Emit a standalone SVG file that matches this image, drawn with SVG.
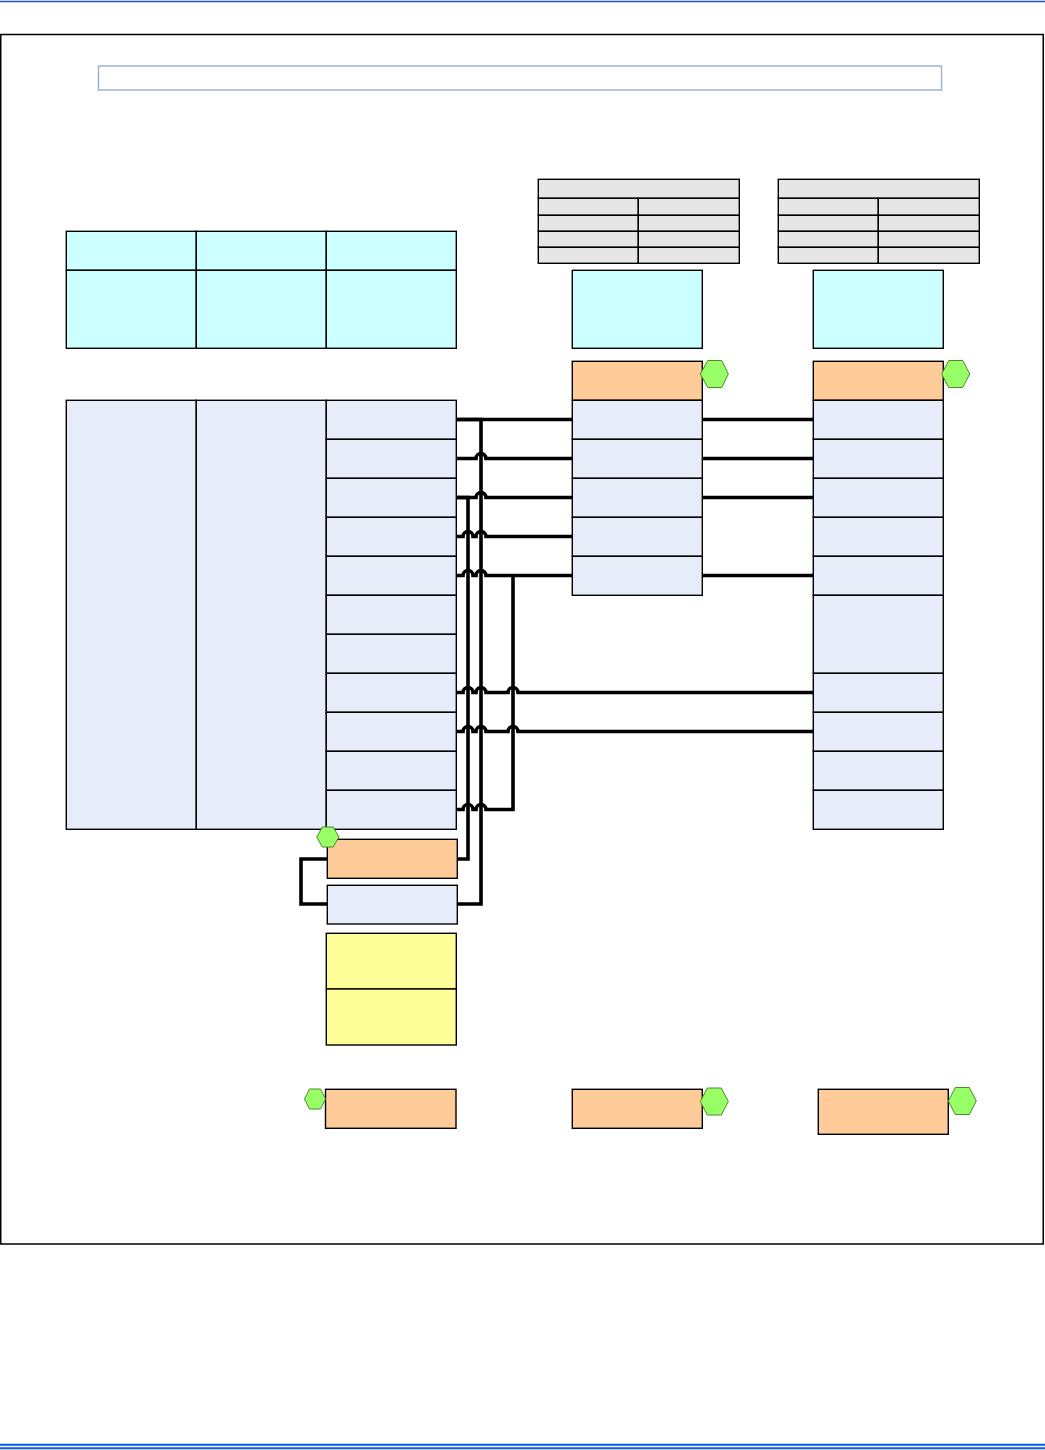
<svg xmlns="http://www.w3.org/2000/svg" width="1045" height="1450" viewBox="0 0 1045 1450">
<style>
.b{stroke:#000;stroke-width:1.4}
.lb{fill:#e6edf8}
.cy{fill:#ccffff}
.or{fill:#ffcc99}
.ye{fill:#ffff99}
.gr{fill:#e6e6e6}
.hex{fill:#99ff66;stroke:#4a8a2a;stroke-width:1}
.w{fill:none;stroke:#000;stroke-width:3.6;stroke-linejoin:miter}
</style>
<rect width="1045" height="1450" fill="#fff"/>
<g id="page">
<line x1="0" y1="1.5" x2="1045" y2="1.5" stroke="#1f52c0" stroke-width="1.5"/>
<line x1="0" y1="1444.7" x2="1045" y2="1444.7" stroke="#0a5ae6" stroke-width="2"/>
<line x1="0" y1="1448.3" x2="1045" y2="1448.3" stroke="#0a5ae6" stroke-width="2"/>
<rect x="0.75" y="34.5" width="1042.5" height="1209.5" fill="none" stroke="#000" stroke-width="1.5"/>
</g>
<g id="title">
<rect x="98.5" y="66" width="843" height="24" fill="#fff" stroke="#9fb5ce" stroke-width="1.5"/>
</g>
<g id="left-table">
<rect class="b cy" x="66.3" y="231.3" width="130" height="39"/>
<rect class="b cy" x="196.3" y="231.3" width="130" height="39"/>
<rect class="b cy" x="326.3" y="231.3" width="130" height="39"/>
<rect class="b cy" x="66.3" y="270.3" width="130" height="78"/>
<rect class="b cy" x="196.3" y="270.3" width="130" height="78"/>
<rect class="b cy" x="326.3" y="270.3" width="130" height="78"/>
</g>
<g id="left-block">
<rect class="b lb" x="66.3" y="400.3" width="130" height="429"/>
<rect class="b lb" x="196.3" y="400.3" width="130" height="429"/>
<rect class="b lb" x="326.3" y="400.3" width="130" height="39"/>
<rect class="b lb" x="326.3" y="439.3" width="130" height="39"/>
<rect class="b lb" x="326.3" y="478.3" width="130" height="39"/>
<rect class="b lb" x="326.3" y="517.3" width="130" height="39"/>
<rect class="b lb" x="326.3" y="556.3" width="130" height="39"/>
<rect class="b lb" x="326.3" y="595.3" width="130" height="39"/>
<rect class="b lb" x="326.3" y="634.3" width="130" height="39"/>
<rect class="b lb" x="326.3" y="673.3" width="130" height="39"/>
<rect class="b lb" x="326.3" y="712.3" width="130" height="39"/>
<rect class="b lb" x="326.3" y="751.3" width="130" height="39"/>
<rect class="b lb" x="326.3" y="790.3" width="130" height="39"/>
</g>
<g id="left-lower">
<rect class="b or" x="327.3" y="839.3" width="130" height="39"/>
<polygon class="hex" points="316.8,837 322.3,827 333.3,827 338.8,837 333.3,847 322.3,847"/>
<rect class="b lb" x="327.3" y="885.3" width="130" height="38.7"/>
<rect class="b ye" x="326.3" y="933.3" width="130" height="55.7"/>
<rect class="b ye" x="326.3" y="989" width="130" height="56"/>
</g>
<g id="mid-table">
<rect class="b gr" x="538.3" y="179.3" width="201" height="19"/>
<rect class="b gr" x="538.3" y="198.3" width="100" height="17"/>
<rect class="b gr" x="638.3" y="198.3" width="101" height="17"/>
<rect class="b gr" x="538.3" y="215.3" width="100" height="16"/>
<rect class="b gr" x="638.3" y="215.3" width="101" height="16"/>
<rect class="b gr" x="538.3" y="231.3" width="100" height="16"/>
<rect class="b gr" x="638.3" y="231.3" width="101" height="16"/>
<rect class="b gr" x="538.3" y="247.3" width="100" height="16"/>
<rect class="b gr" x="638.3" y="247.3" width="101" height="16"/>
</g>
<g id="right-table">
<rect class="b gr" x="778.3" y="179.3" width="201" height="19"/>
<rect class="b gr" x="778.3" y="198.3" width="100" height="17"/>
<rect class="b gr" x="878.3" y="198.3" width="101" height="17"/>
<rect class="b gr" x="778.3" y="215.3" width="100" height="16"/>
<rect class="b gr" x="878.3" y="215.3" width="101" height="16"/>
<rect class="b gr" x="778.3" y="231.3" width="100" height="16"/>
<rect class="b gr" x="878.3" y="231.3" width="101" height="16"/>
<rect class="b gr" x="778.3" y="247.3" width="100" height="16"/>
<rect class="b gr" x="878.3" y="247.3" width="101" height="16"/>
</g>
<g id="mid-column">
<rect class="b cy" x="572.3" y="270.3" width="130" height="78"/>
<rect class="b or" x="572.3" y="361.3" width="130" height="39"/>
<polygon class="hex" points="700.3,374 707.8,360.5 721.8,360.5 728.3,374 721.8,387.5 707.8,387.5"/>
<rect class="b lb" x="572.3" y="400.3" width="130" height="39"/>
<rect class="b lb" x="572.3" y="439.3" width="130" height="39"/>
<rect class="b lb" x="572.3" y="478.3" width="130" height="39"/>
<rect class="b lb" x="572.3" y="517.3" width="130" height="39"/>
<rect class="b lb" x="572.3" y="556.3" width="130" height="39"/>
</g>
<g id="right-column">
<rect class="b cy" x="813.3" y="270.3" width="130" height="78"/>
<rect class="b or" x="813.3" y="361.3" width="130" height="39"/>
<polygon class="hex" points="941.7,374 948.7,360.5 962.7,360.5 969.7,374 962.7,387.5 948.7,387.5"/>
<rect class="b lb" x="813.3" y="400.3" width="130" height="39"/>
<rect class="b lb" x="813.3" y="439.3" width="130" height="39"/>
<rect class="b lb" x="813.3" y="478.3" width="130" height="39"/>
<rect class="b lb" x="813.3" y="517.3" width="130" height="39"/>
<rect class="b lb" x="813.3" y="556.3" width="130" height="39"/>
<rect class="b lb" x="813.3" y="595.3" width="130" height="78"/>
<rect class="b lb" x="813.3" y="673.3" width="130" height="39"/>
<rect class="b lb" x="813.3" y="712.3" width="130" height="39"/>
<rect class="b lb" x="813.3" y="751.3" width="130" height="39"/>
<rect class="b lb" x="813.3" y="790.3" width="130" height="39"/>
</g>
<g id="bottom-row">
<rect class="b or" x="325.5" y="1089.3" width="130.5" height="39"/>
<polygon class="hex" points="304.5,1099 309.5,1089 320.5,1089 325.5,1099 320.5,1109 309.5,1109"/>
<rect class="b or" x="572.3" y="1089.3" width="130" height="39"/>
<polygon class="hex" points="700.3,1101.5 707.3,1088 721.3,1088 728.3,1101.5 721.3,1115 707.3,1115"/>
<rect class="b or" x="818.3" y="1089.3" width="130" height="45"/>
<polygon class="hex" points="948.3,1101 955.3,1087.5 969.3,1087.5 976.3,1101 969.3,1114.5 955.3,1114.5"/>
</g>
<g id="connectors">
<path class="w" d="M456,419.5 H572"/>
<path class="w" d="M456,419.5 H481 V904 H457"/>
<path class="w" d="M456,458.5 H476 A5,5 0 0 1 486,458.5 H572"/>
<path class="w" d="M456,497.5 H476 A5,5 0 0 1 486,497.5 H572"/>
<path class="w" d="M456,497.5 H468 V859 H457"/>
<path class="w" d="M456,536.5 H463 A5,5 0 0 1 473,536.5 H476 A5,5 0 0 1 486,536.5 H572"/>
<path class="w" d="M456,575.5 H463 A5,5 0 0 1 473,575.5 H476 A5,5 0 0 1 486,575.5 H572"/>
<path class="w" d="M456,809.5 H463 A5,5 0 0 1 473,809.5 H476 A5,5 0 0 1 486,809.5 H513 V575.5"/>
<path class="w" d="M456,692.5 H463 A5,5 0 0 1 473,692.5 H476 A5,5 0 0 1 486,692.5 H508 A5,5 0 0 1 518,692.5 H813"/>
<path class="w" d="M456,731.5 H463 A5,5 0 0 1 473,731.5 H476 A5,5 0 0 1 486,731.5 H508 A5,5 0 0 1 518,731.5 H813"/>
<path class="w" d="M702,419.5 H813"/>
<path class="w" d="M702,458.5 H813"/>
<path class="w" d="M702,497.5 H813"/>
<path class="w" d="M702,575.5 H813"/>
<path class="w" d="M327,859 H301 V904 H327"/>
</g>
</svg>
